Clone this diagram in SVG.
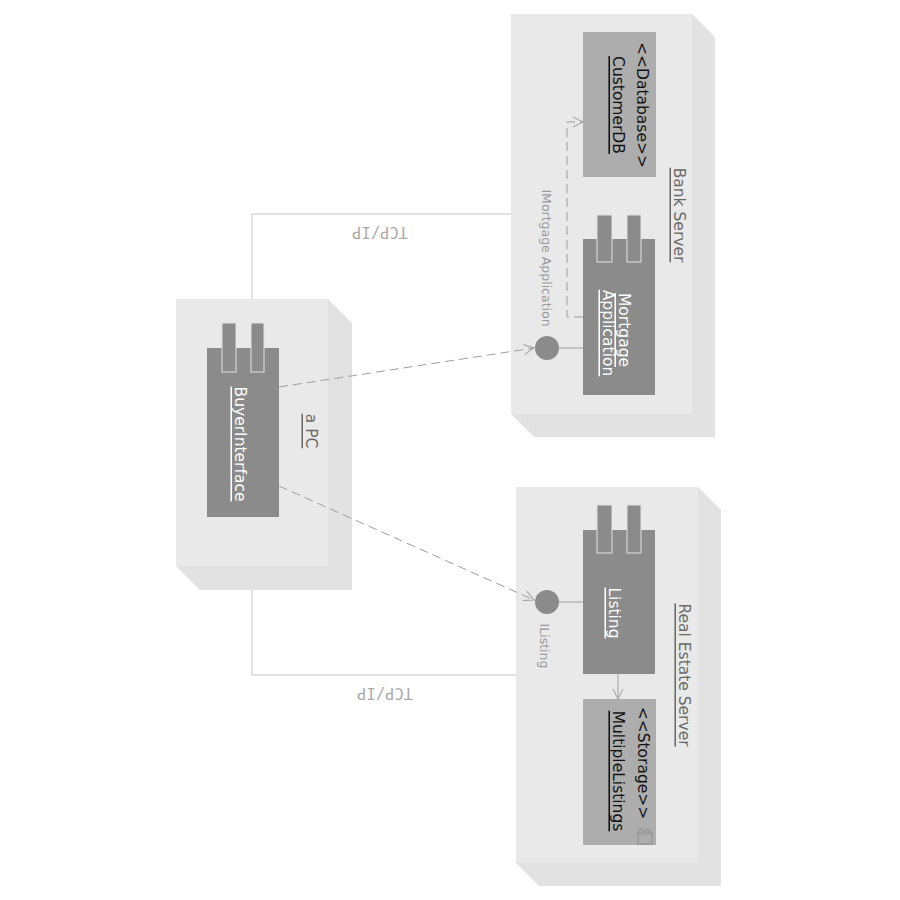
<svg xmlns="http://www.w3.org/2000/svg" width="900" height="900" viewBox="0 0 900 900">
<defs>
<style>
.back{fill:#e2e2e2;}
.front{fill:#e9e9e9;}
.comp{fill:#8b8b8b;}
.tab{fill:#8b8b8b;stroke:#e2e2e2;stroke-width:1;}
.art{fill:#adadad;}
.t{font-family:"DejaVu Sans","Liberation Sans",sans-serif;font-size:15.5px;text-anchor:middle;dominant-baseline:central;}
.nodelbl{fill:#6a6a6a;text-decoration:underline;}
.complbl{fill:#ffffff;text-decoration:underline;}
.artlbl{fill:#111111;}
.artname{fill:#111111;text-decoration:underline;}
.ifc{fill:#8b8b8b;}
.ifclbl{fill:#9a9a9a;font-size:12.5px;}
.tcp{fill:none;stroke:#c4c4c4;stroke-width:1;}
.tcplbl{fill:#ababab;font-family:"DejaVu Sans Mono","Liberation Mono",monospace;font-size:15.5px;text-anchor:middle;dominant-baseline:central;}
.dep{fill:none;stroke:#9e9e9e;stroke-width:1;stroke-dasharray:9,5;}
.sol{fill:none;stroke:#9e9e9e;stroke-width:1;}
</style>
<marker id="open" viewBox="0 0 12 12" refX="11" refY="6" markerWidth="12" markerHeight="12" markerUnits="userSpaceOnUse" orient="auto">
<path d="M1,1 L11,6 L1,11" fill="none" stroke="#9e9e9e" stroke-width="1"/>
</marker>
</defs>
<rect width="900" height="900" fill="#ffffff"/>

<g id="connectors">
<polyline class="tcp" points="252,299 252,214 511,214"/>
<text class="tcplbl" transform="translate(380,232) rotate(180)">TCP/IP</text>
<polyline class="tcp" points="252,590 252,675 516,675"/>
<text class="tcplbl" transform="translate(385,693) rotate(180)">TCP/IP</text>
</g>

<g id="node-bank-server">
<polygon class="back" points="511,14 692,14 715,37 715,437 534,437 511,414"/>
<rect class="front" x="511" y="14" width="181" height="400"/>
<text class="t nodelbl" transform="translate(679,215) rotate(90)">Bank Server</text>
</g>

<g id="node-real-estate-server">
<polygon class="back" points="516,487 698,487 721,510 721,886 539,886 516,863"/>
<rect class="front" x="516" y="487" width="182" height="376"/>
<text class="t nodelbl" transform="translate(684,675) rotate(90)">Real Estate Server</text>
</g>

<g id="node-a-pc">
<polygon class="back" points="176,299 328,299 352,323 352,590 200,590 176,566"/>
<rect class="front" x="176" y="299" width="152" height="267"/>
<text class="t nodelbl" transform="translate(311,431) rotate(90)">a PC</text>
</g>

<g id="node-customerdb">
<rect class="art" x="583" y="32" width="73" height="145"/>
<text class="t artlbl" transform="translate(642,105) rotate(90)">&lt;&lt;Database&gt;&gt;</text>
<text class="t artname" transform="translate(618,105) rotate(90)">CustomerDB</text>
</g>

<g id="node-mortgage-application">
<rect class="comp" x="583" y="239" width="72" height="156"/>
<rect class="tab" x="597" y="215" width="15" height="47"/>
<rect class="tab" x="627" y="215" width="14" height="47"/>
<text class="t complbl" transform="translate(624,330) rotate(90)">Mortgage</text>
<text class="t complbl" transform="translate(608,333) rotate(90)">Application</text>
</g>

<g id="node-imortgage-application">
<line class="sol" x1="559" y1="348" x2="583" y2="348"/>
<circle class="ifc" cx="547" cy="348" r="12"/>
<text class="t ifclbl" transform="translate(546,258) rotate(90)">IMortgage Application</text>
</g>

<g id="node-listing">
<rect class="comp" x="583" y="530" width="72" height="144"/>
<rect class="tab" x="597" y="505" width="15" height="48"/>
<rect class="tab" x="627" y="505" width="14" height="48"/>
<text class="t complbl" transform="translate(614,613) rotate(90)">Listing</text>
</g>

<g id="node-ilisting">
<line class="sol" x1="559" y1="602" x2="583" y2="602"/>
<circle class="ifc" cx="547" cy="602" r="12"/>
<text class="t ifclbl" transform="translate(544,646) rotate(90)">IListing</text>
</g>

<g id="node-multiplelistings">
<rect class="art" x="583" y="699" width="73" height="146"/>
<text class="t artlbl" transform="translate(643,763) rotate(90)">&lt;&lt;Storage&gt;&gt;</text>
<text class="t artname" transform="translate(618,771) rotate(90)">MultipleListings</text>
<rect x="638" y="832" width="14" height="12" fill="none" stroke="#8b8b8b" stroke-width="1"/>
<rect x="640" y="829" width="3" height="5" fill="#adadad" stroke="#8b8b8b" stroke-width="0.8"/>
<rect x="646" y="829" width="3" height="5" fill="#adadad" stroke="#8b8b8b" stroke-width="0.8"/>
</g>

<g id="node-buyerinterface">
<rect class="comp" x="207" y="348" width="72" height="169"/>
<rect class="tab" x="222" y="323" width="14" height="49"/>
<rect class="tab" x="251" y="323" width="13" height="49"/>
<text class="t complbl" transform="translate(240,444) rotate(90)">BuyerInterface</text>
</g>

<g id="dependencies">
<line class="dep" x1="279" y1="387" x2="534" y2="348" marker-end="url(#open)"/>
<line class="dep" x1="279" y1="486" x2="534" y2="600" marker-end="url(#open)"/>
<polyline class="dep" points="583,317 567,317 567,122 583,122" marker-end="url(#open)"/>
<line class="sol" x1="618" y1="674" x2="618" y2="699" marker-end="url(#open)"/>
</g>
</svg>
